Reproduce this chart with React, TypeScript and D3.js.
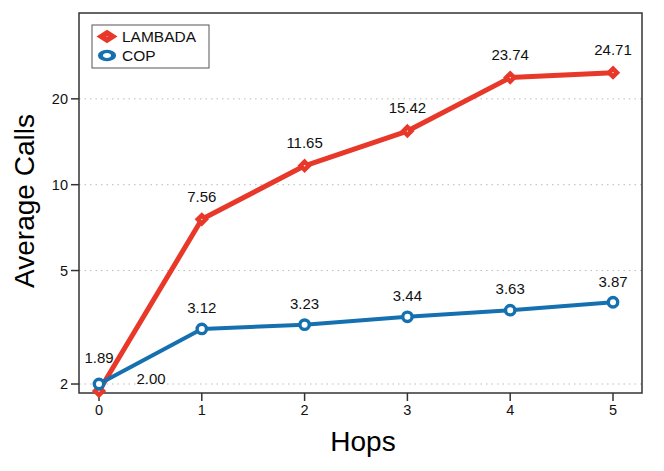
import React from "react";
import * as d3 from "d3";

const hops = [0, 1, 2, 3, 4, 5];
const lambada = [1.89, 7.56, 11.65, 15.42, 23.74, 24.71];
const cop = [2.0, 3.12, 3.23, 3.44, 3.63, 3.87];
const yTicks = [2, 5, 10, 20];
const seriesNames = ["LAMBADA", "COP"];

const W = 664;
const H = 471;
const box = { left: 79, right: 642, top: 13, bottom: 393 };
const RED = "#e8382a";
const BLUE = "#1570b0";
const FONT = "'Liberation Sans', Arial, Helvetica, sans-serif";

export default function App() {
  const x = d3.scaleLinear().domain([0, 5]).range([99, 613]);
  const y = d3.scaleLog().domain([1.86, 40]).range([box.bottom, box.top]);
  const line = d3
    .line<number>()
    .x((_, i) => x(hops[i]))
    .y((d) => y(d));

  const diamond = (cx: number, cy: number, r: number) =>
    `M${cx},${cy - r}L${cx + r},${cy}L${cx},${cy + r}L${cx - r},${cy}Z`;

  const fmt = d3.format(".2f");

  const lamOff = hops.map((h) => (h === 0 ? [0, -33] : [0, -23]));
  const copOff = hops.map((h) => (h === 0 ? [52, -5] : [0, -21]));

  return (
    <svg
      width={W}
      height={H}
      style={{ position: "absolute", left: 0, top: 0, background: "#fff" }}
      fontFamily={FONT}
    >
      {yTicks.map((t) => (
        <line
          key={"g" + t}
          x1={box.left}
          x2={box.right}
          y1={y(t)}
          y2={y(t)}
          stroke="#bbb"
          strokeWidth={1}
          strokeDasharray="1.5,4"
        />
      ))}
      <rect
        x={box.left}
        y={box.top}
        width={box.right - box.left}
        height={box.bottom - box.top}
        fill="none"
        stroke="#333"
        strokeWidth={1.5}
      />
      {yTicks.map((t) => (
        <g key={"y" + t}>
          <line x1={box.left - 8} x2={box.left} y1={y(t)} y2={y(t)} stroke="#333" strokeWidth={1.5} />
          <text x={box.left - 11} y={y(t)} dy="0.35em" textAnchor="end" fontSize={14.5} fill="#111">
            {t}
          </text>
        </g>
      ))}
      {hops.map((h) => (
        <g key={"x" + h}>
          <line x1={x(h)} x2={x(h)} y1={box.bottom} y2={box.bottom + 8} stroke="#333" strokeWidth={1.5} />
          <text x={x(h)} y={box.bottom + 22} textAnchor="middle" fontSize={14.5} fill="#111">
            {h}
          </text>
        </g>
      ))}
      <text x={363} y={451} textAnchor="middle" fontSize={28} fill="#000">
        Hops
      </text>
      <text
        transform={`translate(34,${(box.top + box.bottom) / 2 - 2}) rotate(-90)`}
        textAnchor="middle"
        fontSize={28}
        fill="#000"
      >
        Average Calls
      </text>

      <path d={line(lambada) || ""} fill="none" stroke={RED} strokeWidth={5} strokeLinejoin="round" />
      {lambada.map((v, i) => (
        <path key={"ld" + i} d={diamond(x(hops[i]), y(v), 4)} fill="#fff" stroke={RED} strokeWidth={4.5} strokeLinejoin="miter" />
      ))}
      <path d={line(cop) || ""} fill="none" stroke={BLUE} strokeWidth={4} strokeLinejoin="round" />
      {cop.map((v, i) => (
        <circle key={"cc" + i} cx={x(hops[i])} cy={y(v)} r={4.7} fill="#fff" stroke={BLUE} strokeWidth={3.4} />
      ))}

      {lambada.map((v, i) => (
        <text
          key={"lt" + i}
          x={x(hops[i]) + lamOff[i][0]}
          y={y(v) + lamOff[i][1]}
          dy="0.35em"
          textAnchor="middle"
          fontSize={15}
          fill="#111"
        >
          {fmt(v)}
        </text>
      ))}
      {cop.map((v, i) => (
        <text
          key={"ct" + i}
          x={x(hops[i]) + copOff[i][0]}
          y={y(v) + copOff[i][1]}
          dy="0.35em"
          textAnchor="middle"
          fontSize={15}
          fill="#111"
        >
          {fmt(v)}
        </text>
      ))}

      <rect x={92} y={25} width={117} height={43} fill="#fff" stroke="#555" strokeWidth={1} />
      <g transform="translate(107,36.5) scale(1.4,0.9)">
        <path d={diamond(0, 0, 4)} fill="#fff" stroke={RED} strokeWidth={5} />
      </g>
      <text x={122} y={36.5} dy="0.35em" fontSize={15.5} fill="#111">
        {seriesNames[0]}
      </text>
      <g transform="translate(107,55.5) scale(1.4,0.88)">
        <circle cx={0} cy={0} r={4.7} fill="#fff" stroke={BLUE} strokeWidth={3.6} />
      </g>
      <text x={122} y={55.5} dy="0.35em" fontSize={15.5} fill="#111">
        {seriesNames[1]}
      </text>
    </svg>
  );
}
